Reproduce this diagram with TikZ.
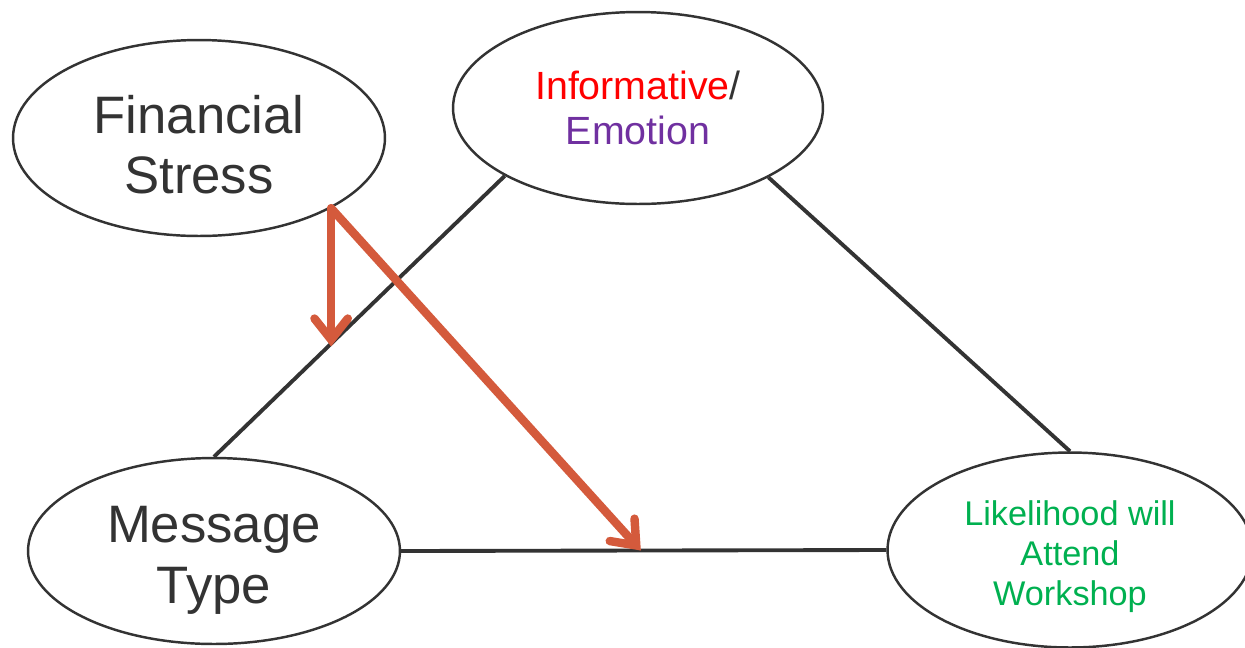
\documentclass[tikz,border=0pt]{standalone}
\usepackage{fontspec}
\setmainfont{Liberation Sans}
\usetikzlibrary{shapes.geometric,arrows.meta}
\definecolor{inkgray}{RGB}{51,51,51}
\definecolor{arrowred}{RGB}{212,90,60}
\definecolor{emopurple}{RGB}{112,48,160}
\definecolor{attendgreen}{RGB}{0,176,80}
\newcommand{\sinkby}[1]{\rule{0pt}{#1}}
\begin{document}
\begin{tikzpicture}[x=0.02cm,y=-0.02cm,
	bubble/.style={ellipse,draw=inkgray,line width=1.4pt,inner sep=0pt,align=center,text=inkgray},
	link/.style={draw=inkgray,line width=2.2pt},
	push/.style={draw=arrowred,line width=4.8pt,line cap=round,-{Straight Barb[length=12pt,width=19pt,line cap=round]}}]
		\useasboundingbox (0,0) rectangle (1245,647);
		\node[bubble,minimum width=7.44cm,minimum height=3.92cm,font=\fontsize{30}{34}\selectfont] (fs) at (199,138) {\sinkby{29pt}Financial\\Stress};
		\node[bubble,minimum width=7.4cm,minimum height=3.84cm,font=\fontsize{22.4}{26}\selectfont] (info) at (638,108) {{\color{red}Informative}/\\{\color{emopurple}Emotion}};
		\node[bubble,minimum width=7.44cm,minimum height=3.72cm,font=\fontsize{30}{34.5}\selectfont] (msg) at (214,551) {\sinkby{31pt}Message\\Type};
		\node[bubble,minimum width=7.3cm,minimum height=3.9cm,font=\fontsize{19.5}{22.7}\selectfont,text=attendgreen] (lik) at (1070,550) {\sinkby{22pt}Likelihood will\\Attend\\Workshop};
		% connectors
		\draw[link] (info.207.6) -- (msg.north) coordinate[pos=0.607] (hit1);
		\draw[link] (info.332.7) -- (lik.north);
		\draw[link] (msg.east) -- (lik.west) coordinate[pos=0.494] (hit2);
		% arrows from financial stress
		\draw[push] (fs.332) -- (fs.332 |- hit1);
		\draw[push] (fs.332) -- (hit2);
\end{tikzpicture}
\end{document}
